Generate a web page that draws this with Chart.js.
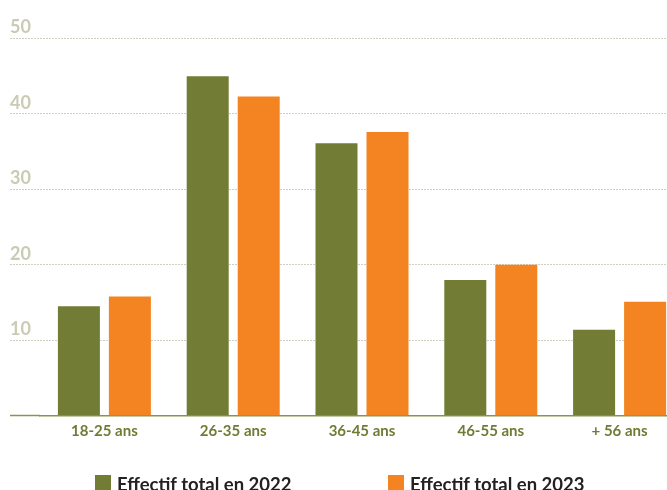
<!DOCTYPE html>
<html>
<head>
<meta charset="utf-8">
<script src="https://cdn.jsdelivr.net/npm/chart.js@4"></script>
<style>
  html, body { margin: 0; padding: 0; background: #ffffff; }
  #wrap { position: relative; width: 667px; height: 490px; overflow: hidden; }
  #c { position: absolute; left: 0; top: 0; }
  .leg { position: absolute; top: 473px; font-family: Lato, "Noto Sans", sans-serif; font-weight: 700;
         font-size: 18.5px; color: #222; line-height: 22px; white-space: nowrap; }
  .leg span.box { position: absolute; left: 0; top: 2px; width: 16px; height: 16px; }
  .leg span.txt { position: absolute; left: 22px; top: 0; }
</style>
</head>
<body>
<div id="wrap">
  <canvas id="c" width="700" height="490"></canvas>
  <div id="legend"></div>
</div>
<script>
const categories = ['18-25 ans', '26-35 ans', '36-45 ans', '46-55 ans', '+ 56 ans'];
const series2022 = [14.5, 45.0, 36.1, 18.0, 11.4];
const series2023 = [15.8, 42.3, 37.6, 20.0, 15.1];
const seriesLabels = ['Effectif total en 2022', 'Effectif total en 2023'];
const yTicks = [0, 10, 20, 30, 40, 50];

const GREEN = '#737c34';
const ORANGE = '#f38421';
const GRID = '#cfcfbf';
const BASE = '#8a9452';

const chart = new Chart(document.getElementById('c'), {
  type: 'bar',
  data: {
    labels: categories,
    datasets: [
      { label: seriesLabels[0], data: series2022, backgroundColor: GREEN, borderWidth: 0,
        categoryPercentage: 0.792, barPercentage: 0.8235 },
      { label: seriesLabels[1], data: series2023, backgroundColor: ORANGE, borderWidth: 0,
        categoryPercentage: 0.792, barPercentage: 0.8235 }
    ]
  },
  options: {
    responsive: false,
    devicePixelRatio: 1,
    animation: false,
    layout: { padding: { left: 10, right: 16, top: 38.5, bottom: 34.3 } },
    plugins: { legend: { display: false }, tooltip: { enabled: false } },
    scales: {
      x: {
        grid: { display: false, drawTicks: false },
        border: { display: true, color: BASE, width: 1.5 },
        ticks: { color: '#6e7c34', font: { family: 'Lato', weight: '700', size: 15 }, padding: 6 },
        afterFit: (s) => { s.height = 40; }
      },
      y: {
        min: 0, max: 50,
        afterBuildTicks: (s) => { s.ticks = yTicks.map(v => ({ value: v })); },
        grid: {
          color: (ctx) => ctx.tick && ctx.tick.value === 0 ? 'rgba(0,0,0,0)' : GRID,
          lineWidth: 1,
          drawTicks: true,
          tickLength: 30,
          tickColor: (ctx) => ctx.tick && ctx.tick.value === 0 ? BASE : GRID,
          tickWidth: (ctx) => ctx.tick && ctx.tick.value === 0 ? 1.5 : 1,
          tickBorderDash: (ctx) => ctx.tick && ctx.tick.value === 0 ? [] : [2, 1]
        },
        border: { display: false, dash: [2, 1] },
        ticks: {
          crossAlign: 'far',
          padding: 0,
          labelOffset: -11,
          color: '#cacbb4',
          font: { family: 'Lato', weight: '700', size: 18 },
          callback: (v) => v === 0 ? '' : String(v)
        },
        afterFit: (s) => { s.width = 30; }
      }
    }
  }
});

// HTML legend built from the datasets
const legendPos = [95, 388];
const legendEl = document.getElementById('legend');
chart.data.datasets.forEach((ds, i) => {
  const item = document.createElement('div');
  item.className = 'leg';
  item.style.left = legendPos[i] + 'px';
  item.innerHTML = '<span class="box" style="background:' + ds.backgroundColor + '"></span><span class="txt">' + ds.label + '</span>';
  legendEl.appendChild(item);
});
</script>
</body>
</html>
